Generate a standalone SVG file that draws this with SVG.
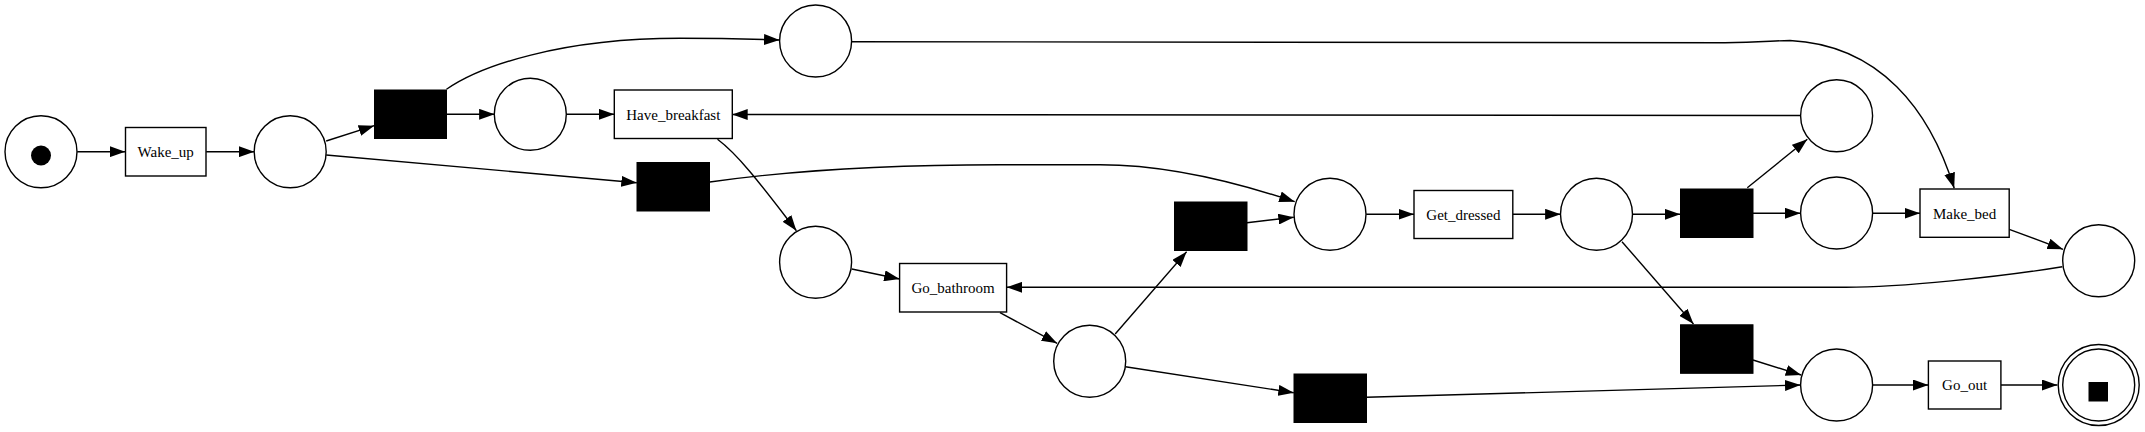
<svg xmlns="http://www.w3.org/2000/svg" width="2145" height="432" viewBox="0 0 2145 432">
<style>
.p{fill:#fff;stroke:#000;stroke-width:1.4}
.t{fill:#000;stroke:#000;stroke-width:1}
.b{fill:#fff;stroke:#000;stroke-width:1.4}
.lbl{font-family:"Liberation Serif","Times New Roman",serif;font-size:15px;fill:#000;text-anchor:middle}
.e{fill:none;stroke:#000;stroke-width:1.4;marker-end:url(#ah)}
</style>
<defs>
<marker id="ah" markerUnits="userSpaceOnUse" markerWidth="16" markerHeight="11" refX="15.5" refY="5.5" orient="auto">
<path d="M0,0 L15.5,5.5 L0,11 z" fill="#000"/>
</marker>
</defs>
<rect width="2145" height="432" fill="#fff"/>
<g id="connectors">
<path class="e" d="M77.2,151.7 L125.2,151.7"/>
<path class="e" d="M206.2,151.7 L254.3,151.7"/>
<path class="e" d="M326.2,141 L374.2,125.7"/>
<path class="e" d="M446.5,114.3 L494.6,114.3"/>
<path class="e" d="M565.9,114.3 L614.3,114.3"/>
<path class="e" d="M446.5,89.3 C480,66 560,38.3 680,38.3 C720,38.3 750,39 779.5,40"/>
<path class="e" d="M851.8,41.7 L1725,42.7 C1760,42.5 1775,40.5 1790,40.5 C1880,45 1930,110 1954.2,188.3"/>
<path class="e" d="M1800.5,115.5 L732.2,114.5"/>
<path class="e" d="M326.2,155 L636.8,182.7"/>
<path class="e" d="M709.8,182 C780,172 880,164.7 1000,164.7 L1100,164.7 C1160,164.7 1230,180 1294.7,201.7"/>
<path class="e" d="M717.5,139.3 C740,156 765,190 796.4,230.7"/>
<path class="e" d="M851.8,269 L899.6,279"/>
<path class="e" d="M1000,312.7 L1057.1,343.3"/>
<path class="e" d="M1115.2,334 L1186.6,251.7"/>
<path class="e" d="M1246.9,222.7 L1293.8,217.3"/>
<path class="e" d="M1125.4,366.7 L1293.8,392.7"/>
<path class="e" d="M1366.5,397.3 L1800.5,385"/>
<path class="e" d="M1366.2,214.3 L1414,214.3"/>
<path class="e" d="M1512.8,214.3 L1560.6,214.3"/>
<path class="e" d="M1632.4,214.3 L1680.2,214.3"/>
<path class="e" d="M1747.3,187.7 L1807.3,139.3"/>
<path class="e" d="M1753,213.3 L1800.5,213.3"/>
<path class="e" d="M1872.6,213.3 L1920,213.3"/>
<path class="e" d="M2009.2,229.3 L2063,249.3"/>
<path class="e" d="M2062.3,266.7 C2000,277 1900,287.3 1846,287.3 L1006.7,287.3"/>
<path class="e" d="M1622,241.7 L1693.5,324"/>
<path class="e" d="M1753,360 L1801.2,375"/>
<path class="e" d="M1872.6,385 L1928.4,385"/>
<path class="e" d="M2000.9,385 L2057.4,385"/>
</g>
<g id="start"><circle class="p" cx="41" cy="151.7" r="36"/><circle cx="41" cy="155.5" r="10" fill="#000"/></g>
<g id="Wake_up"><rect class="b" x="125.5" y="127.5" width="80.5" height="48.5"/><text class="lbl" x="165.7" y="157">Wake_up</text></g>
<g id="p1"><circle class="p" cx="290.2" cy="151.7" r="36"/></g>
<g id="tau1"><rect class="t" x="374.5" y="90" width="72" height="48.5"/></g>
<g id="p2"><circle class="p" cx="530.3" cy="114.3" r="36"/></g>
<g id="p_top"><circle class="p" cx="815.6" cy="41" r="36"/></g>
<g id="Have_breakfast"><rect class="b" x="614.3" y="90" width="118" height="48.5"/><text class="lbl" x="673.3" y="119.5">Have_breakfast</text></g>
<g id="tau2"><rect class="t" x="637" y="162.5" width="72.5" height="48.5"/></g>
<g id="p_ab"><circle class="p" cx="815.6" cy="262.2" r="36"/></g>
<g id="Go_bathroom"><rect class="b" x="899.6" y="263.5" width="107" height="48.5"/><text class="lbl" x="953.1" y="293">Go_bathroom</text></g>
<g id="p_bath"><circle class="p" cx="1089.7" cy="361.2" r="36"/></g>
<g id="tau3"><rect class="t" x="1174.5" y="202" width="72.5" height="48.5"/></g>
<g id="tau4"><rect class="t" x="1294" y="374" width="72.5" height="48.5"/></g>
<g id="p_gd"><circle class="p" cx="1330" cy="214.2" r="36"/></g>
<g id="Get_dressed"><rect class="b" x="1414" y="190.5" width="98.8" height="48"/><text class="lbl" x="1463.4" y="219.5">Get_dressed</text></g>
<g id="p_agd"><circle class="p" cx="1596.5" cy="214.2" r="36"/></g>
<g id="tau5"><rect class="t" x="1680.5" y="189" width="72.5" height="48.5"/></g>
<g id="p_ur"><circle class="p" cx="1836.6" cy="115.8" r="36"/></g>
<g id="p_rm"><circle class="p" cx="1836.6" cy="213" r="36"/></g>
<g id="Make_bed"><rect class="b" x="1920" y="189" width="89.2" height="48.3"/><text class="lbl" x="1964.6" y="218.5">Make_bed</text></g>
<g id="p_fr"><circle class="p" cx="2098.7" cy="260.8" r="36"/></g>
<g id="tau6"><rect class="t" x="1680.5" y="324.8" width="72.5" height="48.5"/></g>
<g id="p_bgo"><circle class="p" cx="1836.6" cy="385" r="36"/></g>
<g id="Go_out"><rect class="b" x="1928.4" y="361" width="72.5" height="48"/><text class="lbl" x="1964.6" y="390">Go_out</text></g>
<g id="end"><circle class="p" cx="2098.7" cy="385" r="40.5"/><circle class="p" cx="2098.7" cy="385" r="36"/><rect x="2088.5" y="382" width="19.5" height="19.5" fill="#000"/></g>
</svg>
